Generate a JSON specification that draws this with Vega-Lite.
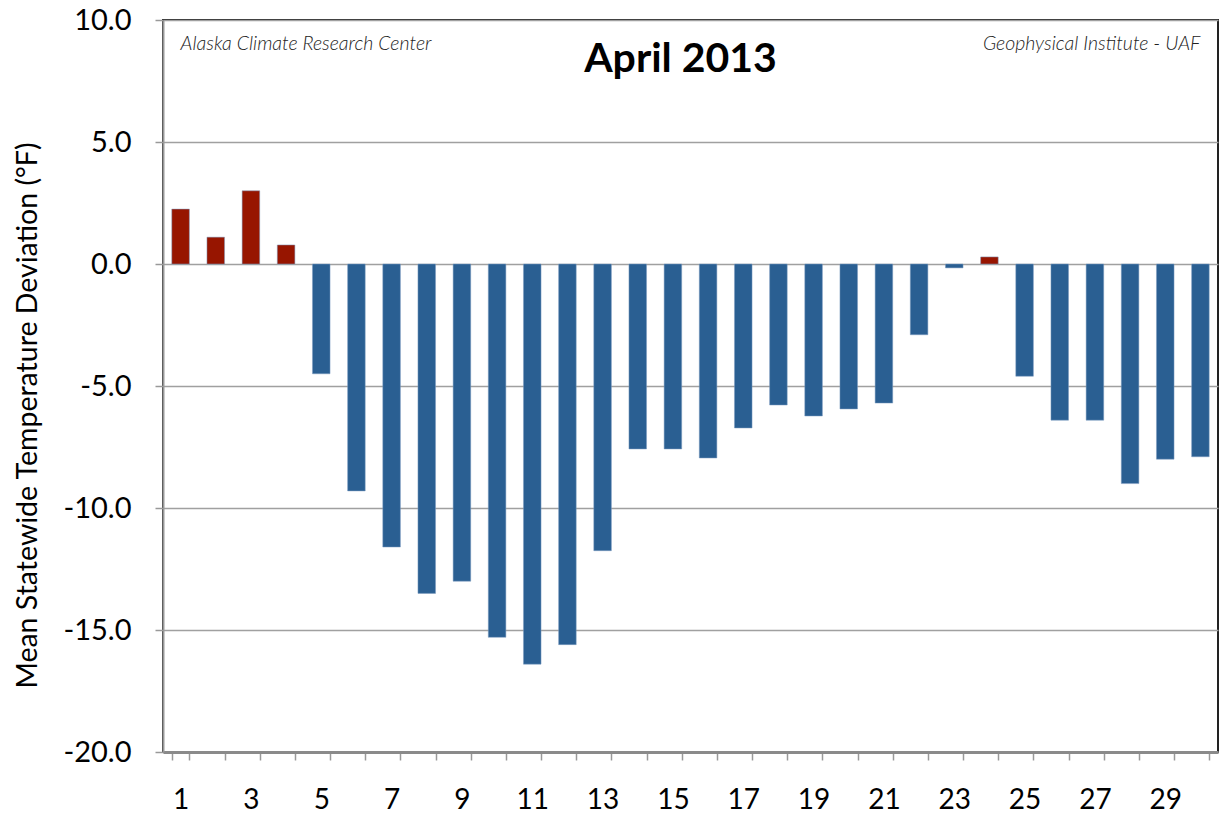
{
  "$schema": "https://vega.github.io/schema/vega-lite/v6.json",
  "width": 1055,
  "height": 732,
  "autosize": {"type": "none"},
  "padding": {"left": 163, "top": 20, "right": 6, "bottom": 64},
  "background": "white",
  "config": {
    "view": {"stroke": "#222222", "strokeWidth": 2},
    "font": "Lato"
  },
  "title": {
    "text": "April 2013",
    "fontSize": 41,
    "fontWeight": "bold",
    "font": "Lato",
    "color": "#000000",
    "anchor": "middle",
    "baseline": "top",
    "offset": 0,
    "dy": 75,
    "dx": -10
  },
  "data": {
    "values": [
      {"day": 1, "dev": 2.25},
      {"day": 2, "dev": 1.1},
      {"day": 3, "dev": 3.0},
      {"day": 4, "dev": 0.78},
      {"day": 5, "dev": -4.5},
      {"day": 6, "dev": -9.3},
      {"day": 7, "dev": -11.6},
      {"day": 8, "dev": -13.5},
      {"day": 9, "dev": -13.0},
      {"day": 10, "dev": -15.3},
      {"day": 11, "dev": -16.4},
      {"day": 12, "dev": -15.6},
      {"day": 13, "dev": -11.75},
      {"day": 14, "dev": -7.58},
      {"day": 15, "dev": -7.58},
      {"day": 16, "dev": -7.95},
      {"day": 17, "dev": -6.72},
      {"day": 18, "dev": -5.78},
      {"day": 19, "dev": -6.23},
      {"day": 20, "dev": -5.94},
      {"day": 21, "dev": -5.7},
      {"day": 22, "dev": -2.9},
      {"day": 23, "dev": -0.16},
      {"day": 24, "dev": 0.29},
      {"day": 25, "dev": -4.6},
      {"day": 26, "dev": -6.4},
      {"day": 27, "dev": -6.4},
      {"day": 28, "dev": -9.0},
      {"day": 29, "dev": -8.0},
      {"day": 30, "dev": -7.9}
    ]
  },
  "encoding": {
    "x": {
      "field": "day",
      "type": "ordinal",
      "scale": {"paddingInner": 0.5, "paddingOuter": 0.25},
      "axis": {
        "title": null,
        "labelAngle": 0,
        "labelFontSize": 28,
        "labelFont": "Lato",
        "labelColor": "#000000",
        "labelPadding": 26,
        "labelExpr": "datum.value % 2 == 1 ? datum.label : ''",
        "tickBand": "extent",
        "tickSize": 8,
        "tickColor": "#999999",
        "tickWidth": 1.5,
        "domainColor": "#8a8a8a",
        "domainWidth": 3,
        "grid": false
      }
    },
    "y": {
      "field": "dev",
      "type": "quantitative",
      "scale": {"domain": [-20, 10], "nice": false, "zero": true},
      "axis": {
        "title": "Mean Statewide Temperature Deviation (°F)",
        "titleFontSize": 28.5,
        "titleFont": "Lato",
        "titleFontWeight": "normal",
        "titleColor": "#000000",
        "titlePadding": 20,
        "titleY": 395,
        "values": [-20, -15, -10, -5, 0, 5, 10],
        "format": ".1f",
        "labelExpr": "replace(datum.label, '\u2212', '-')",
        "labelFontSize": 29,
        "labelFont": "Lato",
        "labelColor": "#000000",
        "labelPadding": 24,
        "tickSize": 8,
        "tickColor": "#999999",
        "tickWidth": 1.5,
        "domainColor": "#999999",
        "domainWidth": 2,
        "grid": true,
        "gridColor": "#a0a0a0",
        "gridWidth": 1.5
      }
    }
  },
  "layer": [
    {
      "mark": {"type": "bar", "stroke": "#7f9cc0", "strokeWidth": 0.5},
      "encoding": {
        "y": {"field": "dev", "type": "quantitative"},
        "y2": {"datum": 0},
        "color": {
          "condition": {"test": "datum.dev > 0", "value": "#971500"},
          "value": "#2a5f92"
        }
      }
    },
    {
      "data": {"values": [{"day": 1, "y": 9.0, "t": "Alaska Climate Research Center"}]},
      "mark": {"type": "text", "align": "left", "baseline": "middle", "fontStyle": "italic", "fontWeight": 300, "fontSize": 19.5, "font": "Lato", "color": "#222222"},
      "encoding": {
        "x": {"field": "day", "type": "ordinal"},
        "y": {"field": "y", "type": "quantitative"},
        "text": {"field": "t"}
      }
    },
    {
      "data": {"values": [{"day": 30, "y": 9.0, "t": "Geophysical Institute - UAF"}]},
      "mark": {"type": "text", "align": "right", "baseline": "middle", "fontStyle": "italic", "fontWeight": 300, "fontSize": 19.5, "font": "Lato", "color": "#222222"},
      "encoding": {
        "x": {"field": "day", "type": "ordinal"},
        "y": {"field": "y", "type": "quantitative"},
        "text": {"field": "t"}
      }
    }
  ]
}
